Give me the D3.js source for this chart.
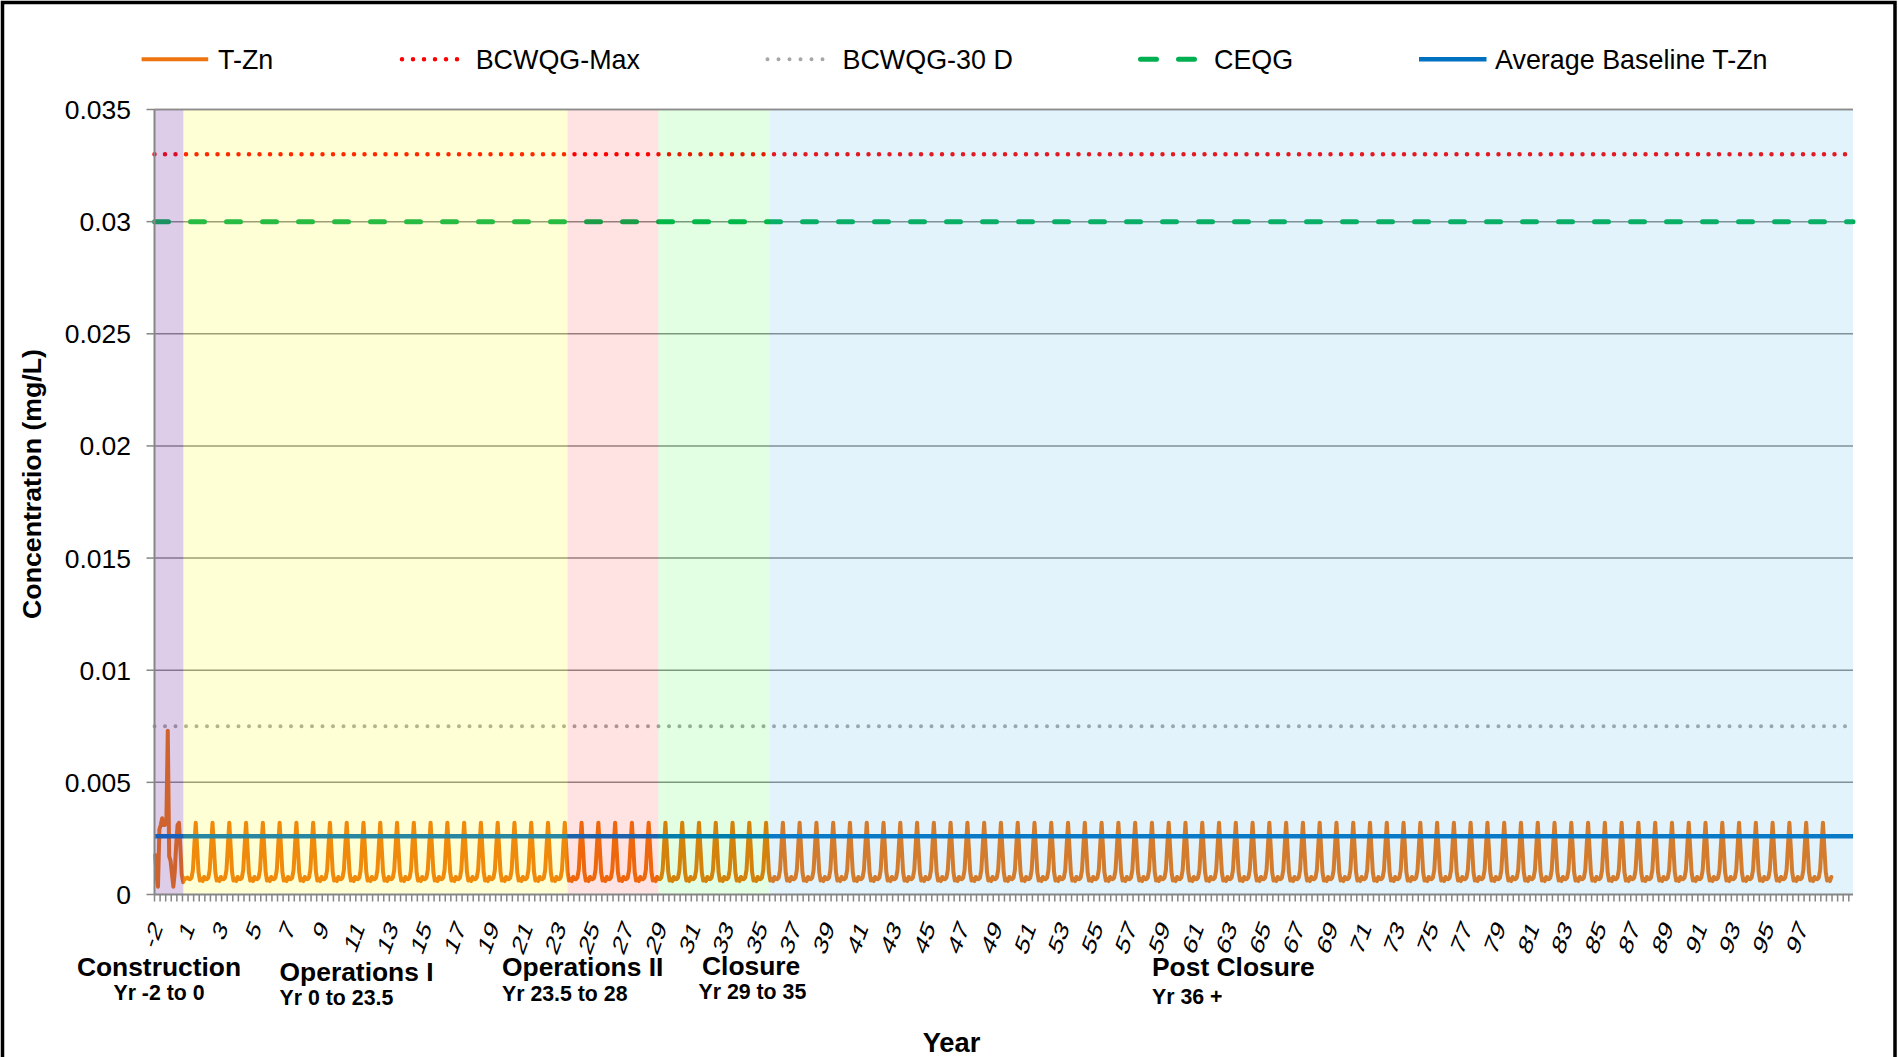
<!DOCTYPE html>
<html><head><meta charset="utf-8">
<script src="https://cdn.jsdelivr.net/npm/d3@7"></script>
<style>
html,body{margin:0;padding:0;background:#fff;}
svg text{font-family:"Liberation Sans",Arial,sans-serif;fill:#000;}
</style></head>
<body>
<svg id="chart" width="1898" height="1057"></svg>
<script>
// ---------------- DATA ----------------
// x axis is measured in category-index units: label "-2" at index 0, label "1" at 2, ..., "97" at 98
const xTickLabels = ["-2"].concat(d3.range(1, 98, 2).map(String));
const xTickIndex = [0].concat(d3.range(2, 99, 2));
const yTicks = [0, 0.005, 0.01, 0.015, 0.02, 0.025, 0.03, 0.035];
const yTickLabels = ["0", "0.005", "0.01", "0.015", "0.02", "0.025", "0.03", "0.035"];

// phases (background bands), in axis index units
const phaseNames = ["Construction", "Operations I", "Operations II", "Closure", "Post Closure"];
const phaseSub = ["Yr -2 to 0", "Yr 0 to 23.5", "Yr 23.5 to 28", "Yr 29 to 35", "Yr 36 +"];
const phaseStart = [0, 1.72, 24.62, 30.04, 36.68];
const phaseEnd = [1.72, 24.62, 30.04, 36.68, 101.25];

// T-Zn monthly concentrations (mg/L), construction years read individually
const tznConstruction = [
  0.00176, 0.0008, 0.00035, 0.0029, 0.0031, 0.0034, 0.0031, 0.0031, 0.0033, 0.0073, 0.0017, 0.0015,
  0.0009, 0.00035, 0.0010, 0.0022, 0.0031, 0.0032, 0.0021, 0.0009, 0.00055, 0.00072, 0.0007, 0.00075
];
// T-Zn monthly profile repeated by the model for every year after construction
const tznAnnualProfile = [0.0007, 0.00068, 0.00075, 0.0011, 0.0022, 0.0032, 0.0021, 0.0010, 0.00062, 0.0007, 0.0006, 0.00078];
const tznProfileYears = d3.range(2, 100); // index of each repeated year

// guideline / reference values (mg/L)
const bcwqgMax = 0.033;
const bcwqg30d = 0.0075;
const ceqg = 0.03;
const avgBaseline = 0.0026;

const legendNames = ["T-Zn", "BCWQG-Max", "BCWQG-30 D", "CEQG", "Average Baseline T-Zn"];

// ---------------- BUILD SERIES ----------------
const tzn = [];
tznConstruction.forEach((v, i) => tzn.push({x: (i + 0.5) / 12, y: v}));
tznProfileYears.forEach(yr => tznAnnualProfile.forEach((v, m) => tzn.push({x: yr + (m + 0.5) / 12, y: v})));

// ---------------- STYLE ----------------
const C = {
  tzn: "#ED740E", max: "#FF0000", d30: "#A6A6A6", ceqg: "#00B050", base: "#0070C0",
  grid: "#8C8C8C", axis: "#868686"
};
const bandFill = ["#7030A0", "#FFFF00", "#FF0000", "#00FF00", "#45AFEB"];
const bandOpacity = [0.24, 0.16, 0.11, 0.11, 0.15];

const L = {left: 154.5, right: 1853, top: 109.5, bottom: 894.5};

const svg = d3.select("#chart");
const x = d3.scaleLinear().domain([0, 101.25]).range([L.left, L.right]);
const y = d3.scaleLinear().domain([0, 0.035]).range([L.bottom, L.top]);

// frame
svg.append("rect").attr("x", 2.5).attr("y", 2.5).attr("width", 1892.5).attr("height", 1070)
  .attr("fill", "#fff").attr("stroke", "#000").attr("stroke-width", 3.5);

// gridlines
svg.append("g").selectAll("line").data(yTicks.filter(d => d > 0)).join("line")
  .attr("x1", L.left).attr("x2", L.right).attr("y1", d => y(d)).attr("y2", d => y(d))
  .attr("stroke", C.grid).attr("stroke-width", 1.5);

// reference lines
function hline(val, color, width, dash, cap) {
  svg.append("line").attr("x1", x(0)).attr("x2", x(101.25)).attr("y1", y(val)).attr("y2", y(val))
    .attr("stroke", color).attr("stroke-width", width)
    .attr("stroke-dasharray", dash).attr("stroke-linecap", cap);
}
hline(bcwqg30d, C.d30, 4, "0 10.5", "round");
hline(ceqg, C.ceqg, 5, "14 22", "round");
hline(bcwqgMax, C.max, 4.5, "0 10.5", "round");

// T-Zn line
const line = d3.line().x(d => x(d.x)).y(d => y(d.y));
svg.append("path").datum(tzn).attr("d", line).attr("fill", "none")
  .attr("stroke", C.tzn).attr("stroke-width", 4).attr("stroke-linejoin", "round").attr("stroke-linecap", "round");

// average baseline
svg.append("line").attr("x1", x(0)).attr("x2", x(101.25)).attr("y1", y(avgBaseline)).attr("y2", y(avgBaseline))
  .attr("stroke", C.base).attr("stroke-width", 4.5);

// translucent phase bands on top
svg.append("g").selectAll("rect").data(phaseNames).join("rect")
  .attr("x", (d, i) => x(phaseStart[i])).attr("width", (d, i) => x(phaseEnd[i]) - x(phaseStart[i]))
  .attr("y", y(0.035)).attr("height", y(0) - y(0.035))
  .attr("fill", (d, i) => bandFill[i]).attr("fill-opacity", (d, i) => bandOpacity[i]);

// top border line of plot (0.035 gridline)
svg.append("line").attr("x1", L.left).attr("x2", L.right).attr("y1", y(0.035)).attr("y2", y(0.035))
  .attr("stroke", C.grid).attr("stroke-width", 1.5);

// y axis
const yAxis = svg.append("g");
yAxis.append("line").attr("x1", L.left).attr("x2", L.left).attr("y1", L.top).attr("y2", L.bottom)
  .attr("stroke", C.axis).attr("stroke-width", 2);
yAxis.selectAll("line.t").data(yTicks).join("line").attr("class", "t")
  .attr("x1", L.left - 8).attr("x2", L.left).attr("y1", d => y(d)).attr("y2", d => y(d))
  .attr("stroke", C.axis).attr("stroke-width", 1.5);
yAxis.selectAll("text").data(yTicks).join("text")
  .attr("x", 131).attr("y", d => y(d)).attr("dy", "0.36em").attr("text-anchor", "end")
  .style("font-size", "26.5px").text((d, i) => yTickLabels[i]);

// x axis
const xAxis = svg.append("g");
xAxis.append("line").attr("x1", L.left).attr("x2", L.right).attr("y1", L.bottom).attr("y2", L.bottom)
  .attr("stroke", C.axis).attr("stroke-width", 2);
xAxis.selectAll("line.t").data(d3.range(0, 101.25 + 1e-6, 1 / 3)).join("line").attr("class", "t")
  .attr("x1", d => x(d)).attr("x2", d => x(d)).attr("y1", L.bottom).attr("y2", L.bottom + 7)
  .attr("stroke", C.axis).attr("stroke-width", 1.5);
const rotXf = "scale(0.68,1) rotate(-62)";
const xLabels = xAxis.selectAll("text").data(xTickIndex).join("text")
  .attr("transform", d => `translate(${x(d)},${L.bottom + 20}) ${rotXf}`)
  .attr("text-anchor", "end")
  .style("font-size", "29px").text((d, i) => xTickLabels[i]);
// align each rotated label: bbox centred on its tick (slightly left), tops at a common line
xLabels.each(function(d) {
  const b = this.getBoundingClientRect();
  const cx = (b.left + b.right) / 2;
  const dx = (x(d) - 1.5) - cx;
  const dyy = 916 - b.top;
  d3.select(this).attr("transform", `translate(${x(d) + dx},${L.bottom + 20 + dyy}) ${rotXf}`);
});

// phase labels under axis
const phaseLabelX = [159, 279.6, 502, 702, 1152];
const phaseLabelAnchor = ["middle", "start", "start", "start", "start"];
const phaseLabelY = [976, 980.5, 975.6, 974.5, 975.6];
const phaseSubX = [159, 279.6, 502, 698.5, 1152];
const phaseSubY = [1000, 1004.7, 1001, 998.6, 1003.5];
phaseNames.forEach((n, i) => {
  svg.append("text").attr("x", phaseLabelX[i]).attr("y", phaseLabelY[i]).attr("text-anchor", phaseLabelAnchor[i])
    .style("font-size", "26.4px").style("font-weight", "bold").text(n);
  svg.append("text").attr("x", phaseSubX[i]).attr("y", phaseSubY[i]).attr("text-anchor", phaseLabelAnchor[i])
    .style("font-size", "21.3px").style("font-weight", "bold").text(phaseSub[i]);
});

// axis titles
svg.append("text").attr("x", 951.5).attr("y", 1052).attr("text-anchor", "middle")
  .style("font-size", "27.3px").style("font-weight", "bold").text("Year");
svg.append("text").attr("transform", "translate(41,484) rotate(-90)").attr("text-anchor", "middle")
  .style("font-size", "26.7px").style("font-weight", "bold").text("Concentration (mg/L)");

// legend
const legX1 = [141.6, 399.5, 765, 1138, 1419];
const legX2 = [208.2, 466, 833, 1198, 1486.5];
const legTX = [218, 475.7, 842.5, 1214, 1495];
const legY = 59.3;
const legStyle = [
  {c: C.tzn, w: 4, dash: null, cap: "butt"},
  {c: C.max, w: 4.5, dash: "0 11", cap: "round"},
  {c: C.d30, w: 4, dash: "0 11", cap: "round"},
  {c: C.ceqg, w: 5, dash: "16 22", cap: "round"},
  {c: C.base, w: 4.5, dash: null, cap: "butt"}
];
legendNames.forEach((n, i) => {
  const s = legStyle[i];
  svg.append("line").attr("x1", legX1[i] + (s.cap === "round" ? 2.5 : 0)).attr("x2", legX2[i])
    .attr("y1", legY).attr("y2", legY).attr("stroke", s.c).attr("stroke-width", s.w)
    .attr("stroke-dasharray", s.dash).attr("stroke-linecap", s.cap);
  svg.append("text").attr("x", legTX[i]).attr("y", legY).attr("dy", "0.36em")
    .style("font-size", "26.9px").text(n);
});
</script>
</body></html>
